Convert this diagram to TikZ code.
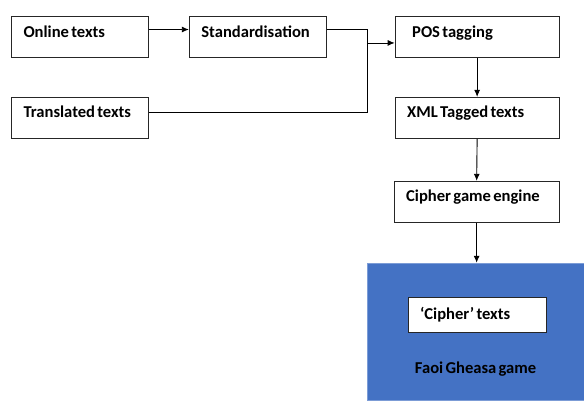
\documentclass[tikz,border=0pt]{standalone}
\usepackage{fontspec}
\setmainfont{Carlito}[WordSpace=0.6]
\usetikzlibrary{arrows.meta}
\definecolor{bleujeu}{RGB}{68,114,196}

\begin{document}
\begin{tikzpicture}[x=1pt, y=-1pt, line width=0.9pt,
  boite/.style={draw=black!85, line width=1.1pt, fill=white, anchor=north west, text width=#1,
    minimum height=41pt, inner xsep=12pt, text height=10pt, text depth=10pt,
    align=left, font=\fontsize{16.6}{18}\selectfont\bfseries,
    execute at begin node={\spaceskip=0.14em\relax}},
  fleche/.style={-{Latex[length=7pt,width=6pt]}}]
\path (0,0) rectangle (584,400); % cadre de l'image

\node [boite=113pt] (online) at (11,16) {Online texts};
\node [boite=113pt] (trans) at (11,97) {Translated texts};
\node [boite=113pt] (stand) at (189,16) {Standardisation};
\node [boite=140pt] (pos) at (395,16) {\hspace{5pt}POS tagging};
\node [boite=140pt] (xml) at (395,97) {XML Tagged texts};
\node [boite=141pt] (engine) at (394,181) {Cipher game engine};

\node [fill=bleujeu, draw=bleujeu!70!white, line width=0.5pt, anchor=north west,
  minimum width=217pt, minimum height=137pt, inner sep=0pt] (game) at (367,263) {};
\node [boite=114pt, minimum height=35pt, text height=12pt, text depth=2pt] (cipher) at (408,297) {‘Cipher’ texts};
\node [font=\fontsize{16.6}{18}\selectfont\bfseries] (faoi) at (476,369) {Faoi Gheasa game};

\coordinate (join) at (368,43);
\draw [fleche] ([yshift=7.5pt]online.east) -- ([yshift=7.5pt]stand.west);
\draw ([yshift=7.5pt]stand.east) -| (join);
\draw [fleche] (join) -- (join -| pos.west);
\draw ([yshift=6pt]trans.east) -| (join);
\draw [fleche] (pos.south) -- (xml.north);
\draw [fleche] (xml.south) -- (engine.north);
\draw [fleche] (engine.south) -- (engine.south |- game.north);
\end{tikzpicture}
\end{document}
